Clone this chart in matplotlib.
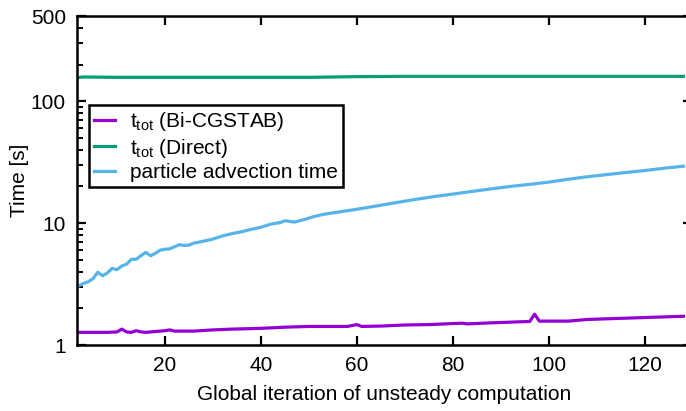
import matplotlib
matplotlib.use("Agg")
import matplotlib.pyplot as plt
from matplotlib.ticker import LogLocator, NullFormatter, FixedLocator, FixedFormatter

plt.rcParams['font.family'] = ['Liberation Sans', 'DejaVu Sans']
plt.rcParams['mathtext.fontset'] = 'custom'
plt.rcParams['mathtext.rm'] = 'Liberation Sans'
plt.rcParams['mathtext.it'] = 'Liberation Sans'

# Bi-CGSTAB total time
bicg_x = [1, 4, 8, 10, 11, 12, 13, 14, 15, 16, 18, 20, 21, 22, 26, 30, 34, 40, 45, 50,
          55, 58, 60, 61, 65, 70, 75, 80, 82, 83, 88, 92, 96, 97, 98, 100, 104, 108,
          112, 116, 120, 124, 128]
bicg_y = [1.27, 1.27, 1.27, 1.28, 1.35, 1.28, 1.27, 1.31, 1.28, 1.27, 1.29, 1.31, 1.33,
          1.30, 1.30, 1.33, 1.35, 1.37, 1.40, 1.42, 1.42, 1.42, 1.47, 1.42, 1.43, 1.46,
          1.47, 1.50, 1.51, 1.49, 1.52, 1.54, 1.56, 1.79, 1.57, 1.57, 1.57, 1.62, 1.64,
          1.66, 1.68, 1.70, 1.72]

# Direct solver total time
direct_x = [1, 3, 10, 30, 50, 60, 70, 80, 100, 128]
direct_y = [155, 158, 157, 157, 157, 159, 160, 160, 160, 160]

# particle advection time
adv_x = [1, 2, 3, 4, 5, 6, 7, 8, 9, 10, 11, 12, 13, 14, 15, 16, 17, 18, 19, 20, 21, 22,
         23, 24, 25, 26, 28, 30, 32, 34, 36, 38, 40, 42, 44, 45, 47, 49, 51, 53, 56, 60,
         64, 68, 72, 76, 80, 84, 88, 92, 96, 100, 104, 108, 112, 116, 120, 124, 128]
adv_y = [2.9, 3.05, 3.2, 3.3, 3.5, 3.95, 3.7, 3.9, 4.25, 4.15, 4.45, 4.6, 5.05, 5.05, 5.4,
         5.75, 5.4, 5.65, 6.0, 6.1, 6.15, 6.4, 6.65, 6.55, 6.6, 6.85, 7.1, 7.4, 7.85, 8.2,
         8.5, 8.9, 9.25, 9.8, 10.1, 10.45, 10.2, 10.7, 11.3, 11.8, 12.3, 13.0, 13.8, 14.7,
         15.6, 16.5, 17.3, 18.2, 19.1, 20.0, 20.8, 21.7, 22.9, 24.0, 25.0, 26.0, 27.0,
         28.2, 29.3]

labels = [r"t$_{\mathrm{tot}}$ (Bi-CGSTAB)", r"t$_{\mathrm{tot}}$ (Direct)",
          "particle advection time"]
colors = ["#9400D3", "#009E73", "#56B4E9"]

xticks = [20, 40, 60, 80, 100, 120]
yticks = [1, 10, 100, 500]
ytick_labels = ["1", "10", "100", "500"]

FS = 15

fig = plt.figure(figsize=(6.86, 4.11), dpi=100)
ax = fig.add_axes([77/686, 1 - 345/411, (692 - 77)/686, (345 - 16)/411])

ax.plot(bicg_x, bicg_y, color=colors[0], lw=2.3, label=labels[0])
ax.plot(direct_x, direct_y, color=colors[1], lw=2.3, label=labels[1])
ax.plot(adv_x, adv_y, color=colors[2], lw=2.3, label=labels[2])

ax.set_yscale('log')
ax.set_ylim(1, 500)
ax.set_xlim(1.67, 129.8)

ax.xaxis.set_major_locator(FixedLocator(xticks))
ax.yaxis.set_major_locator(FixedLocator(yticks))
ax.yaxis.set_major_formatter(FixedFormatter(ytick_labels))
ax.yaxis.set_minor_locator(LogLocator(base=10, subs=range(2, 10)))
ax.yaxis.set_minor_formatter(NullFormatter())

for s in ax.spines.values():
    s.set_linewidth(1.8)

ax.tick_params(which='major', direction='in', length=6.5, width=1.6, top=True, right=True,
               labelsize=FS, pad=8)
ax.tick_params(which='minor', direction='in', length=4, width=1.4, top=True, right=True)

ax.set_xlabel("Global iteration of unsteady computation", fontsize=FS, labelpad=7)
ax.set_ylabel("Time [s]", fontsize=FS, labelpad=1.5)

leg = ax.legend(loc='upper left', bbox_to_anchor=(0.0195, 0.729), fontsize=FS,
                fancybox=False, framealpha=1, edgecolor='black', handlelength=1.0,
                handletextpad=0.7, borderpad=0.25, labelspacing=0.16, borderaxespad=0)
leg.get_frame().set_linewidth(1.8)

fig.savefig("out.png", dpi=100)
